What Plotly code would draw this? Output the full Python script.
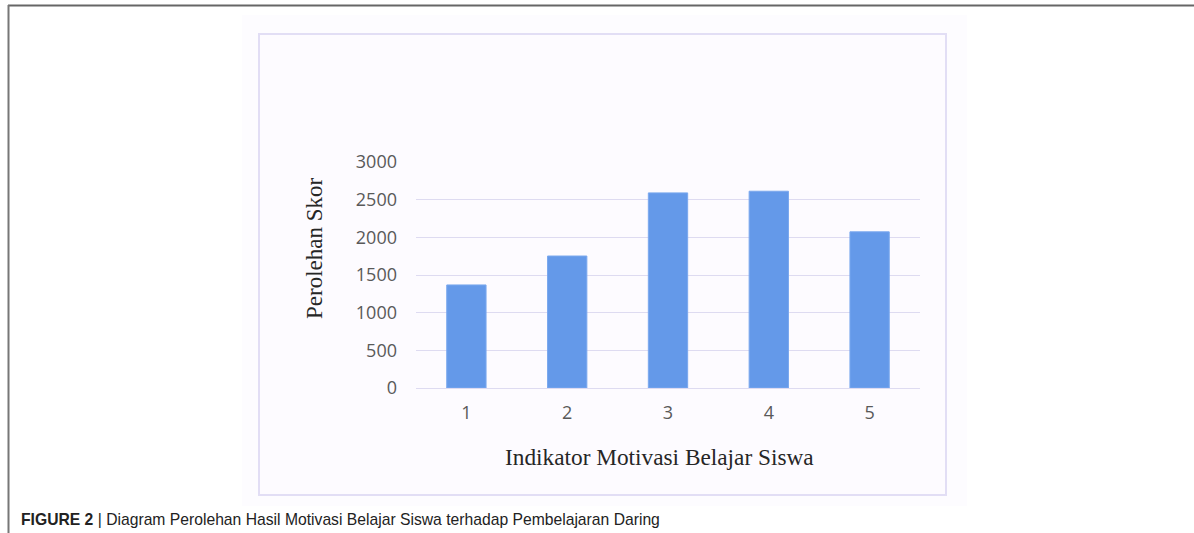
import plotly.graph_objects as go

categories = ["1", "2", "3", "4", "5"]
scores = [1368, 1752, 2590, 2612, 2073]
y_ticks = [0, 500, 1000, 1500, 2000, 2500, 3000]
x_title = "Indikator Motivasi Belajar Siswa"
y_title = "Perolehan Skor"
caption = "<b>FIGURE 2</b> | Diagram Perolehan Hasil Motivasi Belajar Siswa terhadap Pembelajaran Daring"

W, H = 1194, 533
L, R, T, B = 416, 920, 162, 388  # plot area in screen pixels


def px(x):
    return (x - L) / (R - L)


def py(y):
    return (B - y) / (B - T)


fig = go.Figure()
fig.add_trace(go.Bar(
    x=categories, y=scores,
    marker=dict(color="#6499e9", line=dict(color="#7aa8ee", width=1)),
    width=0.39,
))

shapes = [
    dict(type="rect", xref="paper", yref="paper", x0=px(242), x1=px(967), y0=py(506), y1=py(15),
         fillcolor="#fdfcff", line=dict(width=0), layer="below"),
    dict(type="rect", xref="paper", yref="paper", x0=px(259), x1=px(946), y0=py(495), y1=py(34),
         fillcolor="#fdfbff", line=dict(color="#e2def5", width=2), layer="below"),
    dict(type="line", xref="paper", yref="paper", x0=px(8), x1=px(1194), y0=py(5.5), y1=py(5.5),
         line=dict(color="#666666", width=2)),
    dict(type="line", xref="paper", yref="paper", x0=px(8.5), x1=px(8.5), y0=py(5), y1=py(533),
         line=dict(color="#777777", width=2)),
]

annotations = [
    dict(text=x_title, xref="paper", yref="paper", x=px(659), y=py(457), showarrow=False,
         xanchor="center", yanchor="middle",
         font=dict(family="Liberation Serif", size=23.3, color="#262626")),
    dict(text=y_title, xref="paper", yref="paper", x=px(314), y=py(248), showarrow=False,
         xanchor="center", yanchor="middle", textangle=-90,
         font=dict(family="Liberation Serif", size=23, color="#262626")),
    dict(text=caption, xref="paper", yref="paper", x=px(19), y=py(519), showarrow=False,
         xanchor="left", yanchor="middle",
         font=dict(family="Liberation Sans", size=15.7, color="#222222")),
]

fig.update_layout(
    width=W, height=H,
    margin=dict(l=L, r=W - R, t=T, b=H - B, pad=0),
    paper_bgcolor="white", plot_bgcolor="rgba(0,0,0,0)",
    showlegend=False,
    shapes=shapes, annotations=annotations,
    xaxis=dict(showgrid=False, showline=False, zeroline=False, ticks="",
               ticklabelstandoff=12,
               tickfont=dict(family="Open Sans", size=18, color="#595959")),
    yaxis=dict(range=[0, 3000], tickvals=y_ticks, showgrid=True, gridcolor="#dedbf1", gridwidth=1,
               zeroline=True, zerolinecolor="#dedbf1", zerolinewidth=1, showline=False, ticks="",
               ticklabelstandoff=18,
               tickfont=dict(family="Open Sans", size=18, color="#595959")),
)

fig.write_html("out.html", config={"displayModeBar": False},
               post_script="document.body.style.margin='0';document.body.style.overflow='hidden';")
